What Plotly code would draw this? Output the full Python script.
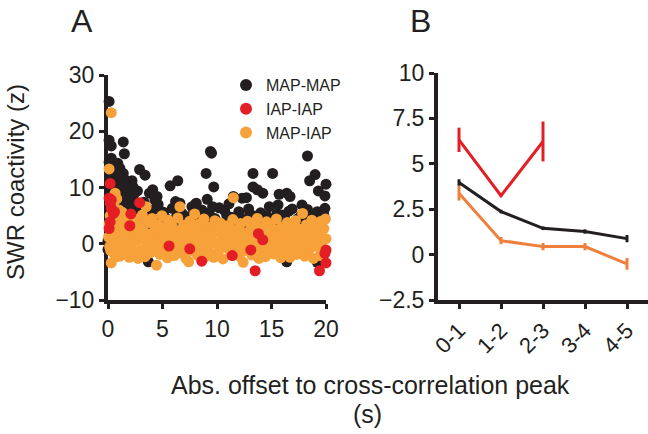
import plotly.graph_objects as go

# ---------------- Panel A data ----------------
map_map_pts = [
    (0.1,25.3),(0.1,18.4),(0.3,17.4),(1.4,18.1),(1.5,16.0),(0.3,15.2),(2.9,13.2),(3.4,12.2),(2.2,11.2),
    (9.4,16.4),(9.5,16.1),(9.0,12.5),(9.7,10.1),(5.7,10.3),(6.4,11.2),(6.2,7.5),(13.3,12.5),(15.1,12.5),
    (13.3,10.1),(18.3,15.6),(19.0,12.3),(18.5,11.2),(20.0,10.6),(19.3,9.4),(19.9,8.5),(17.8,6.9),
    (16.4,9.0),(16.7,8.4),(15.7,8.8),(14.2,9.0),(13.7,9.6),(12.3,8.1),(12.7,8.2),(11.5,8.4),(9.1,7.9),
    (8.1,7.2),(7.7,6.6),(4.1,9.6),(3.8,9.0),(4.5,8.4),(4.3,7.8),(2.3,10.1),(2.6,9.3),(0.9,14.3),
    (1.1,13.4),(0.8,12.5),(0.6,11.6),(1.4,12.5),
    (2.4,6.5),(3.0,5.8),(3.3,7.4),(3.9,5.2),(4.2,6.1),(4.8,4.4),(5.1,5.6),(5.5,3.9),(5.9,6.3),(6.3,4.9),
    (6.8,5.4),(7.1,3.6),(7.4,4.8),(7.9,5.9),(8.3,4.1),(8.6,6.0),(9.0,3.8),(9.3,5.2),(9.8,4.5),(10.2,6.4),
    (10.5,3.3),(10.9,5.0),(11.3,4.7),(11.7,3.9),(12.0,5.7),(12.4,4.3),(12.9,6.2),(13.2,3.5),(13.6,4.9),
    (14.0,5.5),(14.4,3.7),(14.8,6.6),(15.2,4.2),(15.5,5.3),(15.9,3.4),(16.2,4.6),(16.6,5.8),(17.0,3.1),
    (17.4,4.4),(17.7,5.0),(18.1,3.8),(18.5,4.9),(18.8,3.2),(19.2,5.7),(19.6,4.0),(19.9,6.3),
    (2.8,4.2),(3.6,3.5),(4.6,7.0),(5.3,4.5),(6.0,3.4),(6.6,7.2),(7.7,4.0),(8.0,7.0),(8.9,5.5),(9.6,6.6),
    (10.0,3.9),(10.7,5.9),(11.1,7.1),(11.9,4.8),(12.6,3.2),(13.0,5.4),(13.9,4.1),(14.6,4.9),(15.0,3.6),
    (15.6,6.9),(16.0,5.1),(16.9,6.2),(17.2,3.7),(17.9,4.3),(18.3,6.1),(18.7,3.6),(19.0,4.6),(19.4,3.3),
    (19.8,5.1),
    (0.1,14.5),(0.2,12.0),(0.3,13.8),(0.4,11.0),(0.5,9.5),(0.6,12.8),(0.7,10.7),(0.8,13.6),(0.9,8.8),
    (1.0,11.9),(1.1,9.9),(1.2,8.1),(1.3,10.8),(1.4,7.4),(1.5,9.2),(1.6,11.3),(1.7,7.9),(1.8,8.6),
    (1.9,6.9),(2.0,10.0),(2.1,7.6),(2.3,8.3),(2.5,7.1),(2.7,9.4),(0.2,9.0),(0.4,7.8),(0.6,6.6),(0.8,5.9),
    (1.0,7.3),(1.2,6.2),(1.4,5.5),(1.6,6.8),(1.9,5.1),(2.2,4.8),
    (3.7,-3.2),(16.4,-3.2),(19.2,-3.3),(5.0,2.5),(9.5,2.8),(13.0,2.2),(7.2,2.6),(11.0,2.9),(17.5,2.4),
    (2.0,-2.0),(1.0,-1.5),(0.0,0.5),(0.0,-1.0),
]

iap_iap_pts = [
    (0.2,10.7),(0.1,8.1),(0.2,7.2),(0.3,6.3),(0.5,5.4),(0.6,5.7),(0.2,3.9),(0.1,2.7),(0.3,7.8),(2.9,7.3),
    (2.1,5.3),(2.0,3.2),(5.6,-0.4),(7.5,-0.9),(8.6,-3.1),(11.4,-2.1),(13.1,-1.1),(13.5,-4.8),(13.8,1.8),
    (14.2,0.7),(19.4,-4.8),(20.0,-1.1),(20.0,-3.4),(19.9,-1.7),
]

map_iap_pts = [
    (0.3,23.3),(0.1,13.3),(0.65,9.0),(1.0,6.0),(1.5,4.8),(0.8,8.0),
    (0.05,1.2),(0.1,3.5),(0.15,-0.5),(0.2,5.0),(0.3,-3.4),(0.35,2.1),(0.45,0.3),(0.5,7.2),(0.55,-1.8),
    (0.6,4.1),(0.7,1.5),(0.8,-0.9),(0.9,2.8),(0.95,0.0),
    (1.05,3.9),(1.1,-2.2),(1.2,1.0),(1.3,5.6),(1.4,-0.6),(1.5,2.4),(1.6,-1.5),(1.7,0.7),(1.8,4.3),(1.9,3.0),(1.95,-2.4),
    (2.05,1.8),(2.15,-0.2),(2.3,4.6),(2.4,-1.9),(2.5,2.9),(2.6,0.6),(2.75,-2.6),(2.85,3.6),(2.95,1.2),
    (3.05,-1.0),(3.15,5.1),(3.3,2.2),(3.4,-2.3),(3.5,6.6),(3.55,0.4),(3.7,3.8),(3.85,-1.6),(3.95,1.6),
    (4.05,4.5),(4.15,-0.4),(4.3,2.6),(4.45,-3.8),(4.5,0.9),(4.6,3.4),(4.75,-1.9),(4.85,1.9),(4.95,5.0),
    (5.05,-0.8),(5.15,2.8),(5.3,0.2),(5.45,-2.5),(5.5,4.2),(5.65,1.3),(5.8,-1.4),(5.9,3.1),
    (6.0,0.5),(6.1,-2.1),(6.25,2.3),(6.4,4.6),(6.5,-0.3),(6.6,6.6),(6.7,1.6),(6.85,-1.7),(6.95,3.3),
    (7.05,0.8),(7.15,-2.6),(7.3,2.0),(7.4,-3.2),(7.5,4.0),(7.6,0.0),(7.75,2.7),(7.85,-1.3),(7.95,5.3),
    (8.05,1.4),(8.2,-2.0),(8.3,3.5),(8.45,0.3),(8.55,-0.9),(8.7,2.4),(8.8,4.4),(8.95,-2.3),
    (9.05,1.1),(9.15,3.0),(9.3,-1.5),(9.45,0.6),(9.55,2.6),(9.7,-2.4),(9.8,4.1),(9.95,0.1),
    (10.05,2.2),(10.2,-1.1),(10.3,3.7),(10.45,0.9),(10.55,-2.7),(10.7,1.8),(10.85,-0.5),(10.95,3.2),
    (11.05,0.4),(11.2,2.8),(11.3,-1.9),(11.45,4.3),(11.5,8.2),(11.6,1.2),(11.75,-0.8),(11.9,2.5),
    (12.05,-2.2),(12.15,3.6),(12.3,0.7),(12.4,-3.3),(12.55,1.9),(12.7,-1.2),(12.8,4.0),(12.95,0.2),
    (13.05,2.4),(13.2,-2.0),(13.3,1.0),(13.45,3.3),(13.6,-0.4),(13.7,4.5),(13.85,-2.6),(13.95,1.7),
    (14.05,-1.0),(14.2,2.9),(14.3,0.3),(14.45,-2.3),(14.55,3.9),(14.7,1.4),(14.85,-0.7),(14.9,3.2),
    (15.05,0.8),(15.2,-1.8),(15.3,2.5),(15.45,4.4),(15.55,-0.2),(15.7,1.6),(15.85,-2.5),(15.95,3.0),
    (16.05,0.1),(16.2,2.1),(16.3,-1.4),(16.45,3.8),(16.55,0.9),(16.7,-2.4),(16.85,2.7),(16.95,-0.6),
    (17.05,1.3),(17.2,4.1),(17.3,-1.9),(17.45,0.5),(17.6,2.6),(17.7,-0.9),(17.85,5.4),(17.95,1.8),
    (18.05,-2.2),(18.2,3.4),(18.3,0.2),(18.45,-1.1),(18.55,2.0),(18.7,4.2),(18.85,-2.6),(18.95,1.1),
    (19.05,3.1),(19.2,-0.5),(19.3,1.9),(19.45,-2.1),(19.55,4.0),(19.7,0.6),(19.8,2.7),(19.9,-1.3),
    (19.95,4.4),(20.0,0.9),
    (0.25,-1.2),(0.75,-2.3),(1.25,-1.3),(1.75,-0.5),(2.2,-1.1),(2.7,1.9),(3.2,0.9),(3.75,-0.5),
    (4.3,-1.2),(4.8,-0.2),(5.25,1.9),(5.7,-0.3),(6.2,1.0),(6.6,-1.0),(7.2,-0.8),(7.7,1.2),
    (8.1,-0.5),(8.6,1.5),(9.2,-0.6),(9.6,1.8),(10.1,0.1),(10.6,2.6),(11.1,-1.0),(11.6,0.2),
    (12.1,1.2),(12.6,-0.3),(13.1,-0.7),(13.6,2.2),(14.1,1.9),(14.6,-1.4),(15.1,1.7),(15.6,-1.1),
    (16.1,-0.8),(16.6,1.9),(17.1,-0.3),(17.6,-1.7),(18.1,1.3),(18.6,-0.2),(19.1,0.3),(19.6,-0.9),
]

a_xticks = [0, 5, 10, 15, 20]
a_yticks = [-10, 0, 10, 20, 30]

# ---------------- Panel B data ----------------
bins = ["0-1", "1-2", "2-3", "3-4", "4-5"]
mapmap_mean = [3.97, 2.37, 1.45, 1.27, 0.88]
mapmap_err = [0.18, 0.1, 0.1, 0.12, 0.2]
mapiap_mean = [3.38, 0.77, 0.44, 0.44, -0.51]
mapiap_err = [0.4, 0.2, 0.2, 0.2, 0.32]
iapiap_bins = ["0-1", "1-2", "2-3"]
iapiap_mean = [6.32, 3.24, 6.23]
iapiap_err = [0.67, 0.05, 1.1]
b_yticks = [-2.5, 0, 2.5, 5, 7.5, 10]
b_yticklabels = ["\u22122.5", "0", "2.5", "5", "7.5", "10"]

BLACK = "#231F20"
RED = "#E31E24"
ORANGE_PT = "#F7A13A"
ORANGE_LN = "#F07F3C"
FONT = "Liberation Sans, Arial, sans-serif"

W, H = 648, 434
def px_x(p): return p / W
def px_y(p): return 1 - p / H

fig = go.Figure()

def unz(pts):
    return [p[0] for p in pts], [p[1] for p in pts]

for name, pts, col, rank in [("MAP-MAP", map_map_pts, BLACK, 1),
                             ("MAP-IAP", map_iap_pts, ORANGE_PT, 3),
                             ("IAP-IAP", iap_iap_pts, RED, 2)]:
    xs, ys = unz(pts)
    fig.add_trace(go.Scatter(x=xs, y=ys, mode="markers", name=name, legendrank=rank,
                             marker=dict(size=11, color=col, line=dict(width=0)),
                             cliponaxis=False, xaxis="x", yaxis="y"))

fig.add_trace(go.Scatter(x=bins, y=mapmap_mean, mode="lines", showlegend=False,
                         line=dict(color=BLACK, width=3),
                         error_y=dict(type="data", array=mapmap_err, color=BLACK, thickness=3, width=0),
                         xaxis="x2", yaxis="y2", cliponaxis=False))
fig.add_trace(go.Scatter(x=bins, y=mapiap_mean, mode="lines", showlegend=False,
                         line=dict(color=ORANGE_LN, width=3),
                         error_y=dict(type="data", array=mapiap_err, color=ORANGE_LN, thickness=3, width=0),
                         xaxis="x2", yaxis="y2", cliponaxis=False))
fig.add_trace(go.Scatter(x=iapiap_bins, y=iapiap_mean, mode="lines", showlegend=False,
                         line=dict(color=RED, width=3),
                         error_y=dict(type="data", array=iapiap_err, color=RED, thickness=3, width=0),
                         xaxis="x2", yaxis="y2", cliponaxis=False))

axis_common = dict(showline=True, linewidth=4, linecolor=BLACK, ticks="outside", ticklen=5,
                   tickwidth=3, tickcolor=BLACK, showgrid=False, zeroline=False, automargin=False,
                   tickfont=dict(family=FONT, size=23, color=BLACK))

fig.update_layout(
    width=W, height=H, margin=dict(l=0, r=0, t=0, b=0, autoexpand=False),
    paper_bgcolor="white", plot_bgcolor="white",
    font=dict(family=FONT, color=BLACK),
    xaxis=dict(domain=[px_x(108), px_x(326)], range=[0, 20], tickvals=a_xticks, anchor="y",
               layer="below traces", **axis_common),
    yaxis=dict(domain=[px_y(300), px_y(75)], range=[-10, 30], tickvals=a_yticks, anchor="x",
               layer="below traces", **axis_common),
    xaxis2=dict(domain=[px_x(438), 1.0], range=[-0.5, 4.5], type="category", anchor="y2",
                tickangle=-45, **{**axis_common, "tickfont": dict(family=FONT, size=22, color=BLACK)}),
    yaxis2=dict(domain=[px_y(300), px_y(73)], range=[-2.5, 10], tickvals=b_yticks,
                ticktext=b_yticklabels, anchor="x2", **axis_common),
    legend=dict(x=px_x(226), y=px_y(68), xanchor="left", yanchor="top", bgcolor="rgba(0,0,0,0)",
                font=dict(family=FONT, size=16, color=BLACK), itemsizing="constant",
                tracegroupgap=0, itemwidth=30),
    showlegend=True,
    annotations=[
        dict(text="A", x=px_x(82), y=px_y(21), xref="paper", yref="paper", showarrow=False,
             font=dict(family=FONT, size=32, color=BLACK), xanchor="center", yanchor="middle"),
        dict(text="B", x=px_x(420), y=px_y(21), xref="paper", yref="paper", showarrow=False,
             font=dict(family=FONT, size=32, color=BLACK), xanchor="center", yanchor="middle"),
        dict(text="SWR coactivity (z)", x=px_x(15), y=px_y(182), xref="paper", yref="paper",
             showarrow=False, textangle=-90, font=dict(family=FONT, size=24, color=BLACK),
             xanchor="center", yanchor="middle"),
        dict(text="Abs. offset to cross-correlation peak", x=px_x(370), y=px_y(385), xref="paper",
             yref="paper", showarrow=False, font=dict(family=FONT, size=25, color=BLACK),
             xanchor="center", yanchor="middle"),
        dict(text="(s)", x=px_x(367), y=px_y(414), xref="paper", yref="paper", showarrow=False,
             font=dict(family=FONT, size=25, color=BLACK), xanchor="center", yanchor="middle"),
    ],
)

fig.write_html("out.html", config={"displayModeBar": False, "staticPlot": True},
               post_script="document.body.style.margin='0';document.body.style.overflow='hidden';")
